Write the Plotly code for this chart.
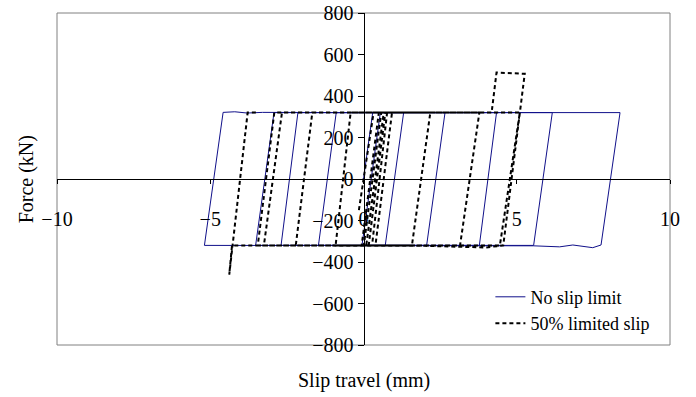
import plotly.graph_objects as go

# ---- data (slip in mm, force in kN) ----
no_slip_x = [0.00, 0.30, 1.31, 0.71, -0.05, 0.55, 2.66, 2.06, -1.47, -0.89, 4.34, 3.78,
             -2.69, -2.14, 6.16, 5.55, -3.52, -2.92, 8.37, 7.75, 7.48, 6.83, 6.40, 5.55,
             -5.19, -4.58, -4.20, -3.80, -3.30, 0.00]
no_slip_y = [0, 320, 320, -320, -320, 320, 320, -320, -320, 320, 320, -320,
             -320, 320, 320, -320, -320, 320, 320, -318, -331, -318, -327, -322,
             -320, 321, 324, 318, 321, 320]

limited_x = [-0.15, 0.33, 0.66, 0.09, -0.06, 0.50, 0.71, 0.17, 0.01, 0.58, 0.93, 0.39,
             0.28, 0.77, 2.18, 1.58, -0.91, -0.42, 3.78, 3.15, -2.21, -1.67, 5.10, 4.45,
             -3.25, -2.66, 5.10, 4.45, -3.45, -2.91, 4.18, 4.34, 5.26, 4.56, 4.00, 3.00,
             2.00, -4.29, -4.38, -3.78, -3.50]
limited_y = [-150, 320, 320, -320, -320, 320, 320, -320, -320, 320, 320, -320,
             -320, 320, 320, -320, -320, 320, 320, -320, -320, 320, 320, -320,
             -320, 320, 320, -320, -320, 320, 320, 513, 507, -320, -330, -327,
             -322, -320, -461, 320, 320]

x_ticks = [-10, -5, 0, 5, 10]
y_ticks = [-800, -600, -400, -200, 0, 200, 400, 600, 800]

FONT = "Liberation Serif"

fig = go.Figure()
fig.add_trace(go.Scatter(x=no_slip_x, y=no_slip_y, mode="lines", name="No slip limit",
                         line=dict(color="#10108a", width=1)))
fig.add_trace(go.Scatter(x=limited_x, y=limited_y, mode="lines", name="50% limited slip",
                         line=dict(color="black", width=2, dash="4px,3px")))

fig.update_layout(
    width=696, height=397,
    margin=dict(l=57, r=26, t=13, b=52, autoexpand=False),
    paper_bgcolor="white", plot_bgcolor="white",
    font=dict(family=FONT, size=20, color="black"),
    showlegend=True,
    legend=dict(x=0.707, y=0.2, xanchor="left", yanchor="top",
                bgcolor="rgba(0,0,0,0)", font=dict(family=FONT, size=18),
                tracegroupgap=0, itemwidth=30),
    xaxis=dict(range=[-10, 10], tickvals=x_ticks, ticks="outside", ticklen=4,
               tickcolor="black", showline=True, linecolor="black", linewidth=1,
               anchor="free", position=0.5, showgrid=False, zeroline=False,
               automargin=False,
               ticklabelstandoff=18, tickfont=dict(family=FONT, size=20)),
    yaxis=dict(range=[-800, 800], tickvals=y_ticks, ticks="outside", ticklen=6,
               tickcolor="black", showline=True, linecolor="black", linewidth=1,
               anchor="free", position=0.5, showgrid=False, zeroline=False,
               automargin=False,
               tickfont=dict(family=FONT, size=20)),
    shapes=[dict(type="rect", xref="paper", yref="paper", x0=0, y0=0, x1=1, y1=1,
                 line=dict(color="#808080", width=1), layer="below")],
    annotations=[
        dict(text="Slip travel (mm)", xref="paper", yref="paper", x=0.5, y=-0.108,
             xanchor="center", yanchor="middle", showarrow=False,
             font=dict(family=FONT, size=20)),
        dict(text="Force (kN)", xref="paper", yref="paper", x=-0.05, y=0.5,
             xanchor="center", yanchor="middle", showarrow=False, textangle=-90,
             font=dict(family=FONT, size=20)),
    ],
)

fig.write_html("out.html")
